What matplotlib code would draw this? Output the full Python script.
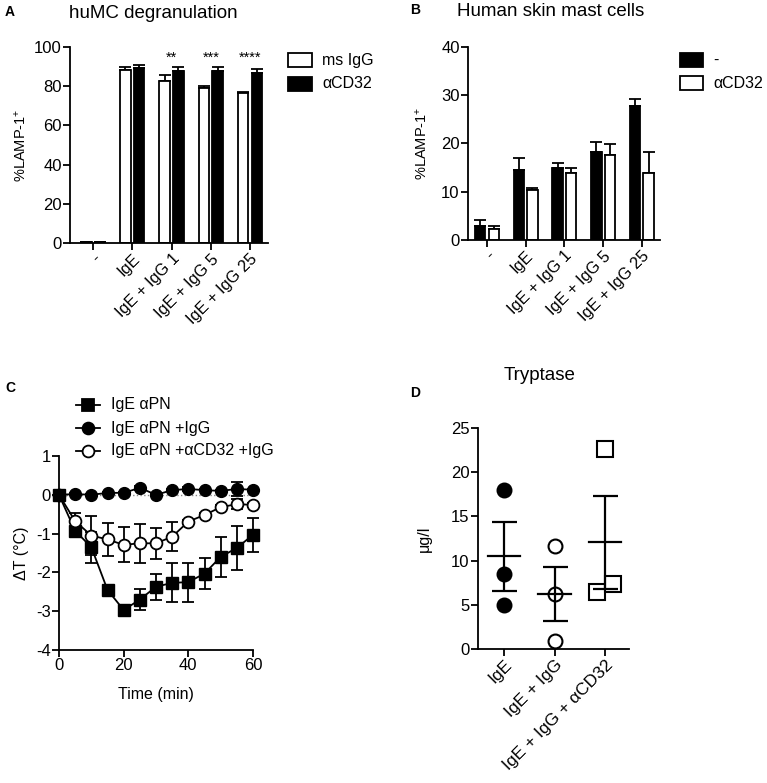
import matplotlib
matplotlib.use('Agg')
import matplotlib.pyplot as plt
import numpy as np
from matplotlib.patches import Rectangle
from matplotlib.lines import Line2D

plt.rcParams['font.family'] = ['Liberation Sans', 'DejaVu Sans']
plt.rcParams['mathtext.fontset'] = 'custom'
plt.rcParams['mathtext.rm'] = 'Liberation Sans'
plt.rcParams['mathtext.it'] = 'Liberation Sans'
plt.rcParams['mathtext.default'] = 'regular'
plt.rcParams['axes.unicode_minus'] = False

# ---------------- data ----------------
cats_ab = ['-', 'IgE', 'IgE + IgG 1', 'IgE + IgG 5', 'IgE + IgG 25']

a_msigg = [0.3, 88.5, 82.5, 79.0, 76.5]
a_msigg_err = [0.0, 1.5, 3.0, 1.3, 0.3]
a_cd32 = [0.3, 89.5, 88.0, 88.0, 86.5]
a_cd32_err = [0.0, 1.5, 1.7, 1.8, 2.3]
a_stars = ['', '', '**', '***', '****']

b_none = [3.0, 14.5, 15.0, 18.3, 27.7]
b_none_err = [1.2, 2.5, 1.0, 2.1, 1.5]
b_cd32 = [2.2, 10.4, 13.9, 17.6, 13.8]
b_cd32_err = [0.8, 0.3, 1.1, 2.3, 4.5]

c_time = [0, 5, 10, 15, 20, 25, 30, 35, 40, 45, 50, 55, 60]
c_ige = [0, -0.93, -1.35, -2.45, -2.97, -2.70, -2.37, -2.27, -2.25, -2.03, -1.60, -1.37, -1.03]
c_ige_err = [0, 0.10, 0.40, 0.05, 0.05, 0.28, 0.33, 0.50, 0.50, 0.40, 0.52, 0.57, 0.44]
c_igg = [0, 0.02, 0.0, 0.05, 0.05, 0.18, 0.0, 0.12, 0.15, 0.12, 0.10, 0.15, 0.13]
c_igg_err = [0, 0.02, 0.02, 0.03, 0.03, 0.05, 0.03, 0.03, 0.04, 0.03, 0.03, 0.17, 0.03]
c_cd32 = [0, -0.68, -1.05, -1.15, -1.29, -1.25, -1.25, -1.08, -0.69, -0.52, -0.32, -0.24, -0.26]
c_cd32_err = [0, 0.20, 0.50, 0.42, 0.45, 0.50, 0.40, 0.37, 0.05, 0.05, 0.05, 0.13, 0.05]

d_cats = ['IgE', 'IgE + IgG', 'IgE + IgG + \u03b1CD32']
d_ige = [18.0, 8.5, 5.0]
d_ige_igg = [11.6, 6.2, 0.9]
d_ige_igg_cd32 = [22.6, 6.4, 7.3]
d_jitter = [[0, 0, 0], [0, 0, 0], [0, -0.16, 0.16]]

# ---------------- figure ----------------
W, H = 767, 783
fig = plt.figure(figsize=(W / 100, H / 100), dpi=100)


def axes_px(x0, x1, ytop, ybot):
    return fig.add_axes([x0 / W, 1 - ybot / H, (x1 - x0) / W, (ybot - ytop) / H])


def fx(x):
    return x / W


def fy(y):
    return 1 - y / H


LW = 1.3
NUMFS = 12
CATFS = 11.8


def style(ax):
    for s in ['top', 'right']:
        ax.spines[s].set_visible(False)
    for s in ['left', 'bottom']:
        ax.spines[s].set_linewidth(LW)
    ax.tick_params(direction='out', length=5, width=LW, labelsize=NUMFS, pad=1)
    ax.patch.set_alpha(0)


# ---------- Panel A ----------
axA = axes_px(70, 268, 47, 243)
style(axA)
x = np.arange(len(cats_ab))
bw, off = 0.27, 0.175
axA.bar(x - off, a_msigg, bw, color='white', edgecolor='black', linewidth=LW, zorder=2)
axA.bar(x + off, a_cd32, bw, color='black', edgecolor='black', linewidth=LW, zorder=2)
axA.errorbar(x - off, a_msigg, yerr=[np.zeros(5), a_msigg_err], fmt='none', ecolor='black',
             elinewidth=LW, capsize=4, capthick=LW, zorder=1)
axA.errorbar(x + off, a_cd32, yerr=[np.zeros(5), a_cd32_err], fmt='none', ecolor='black',
             elinewidth=LW, capsize=4, capthick=LW, zorder=1)
for i, s in enumerate(a_stars):
    if s:
        axA.text(x[i], 94.5, s, ha='center', va='center', fontsize=10.5)
axA.set_xlim(-0.59, 4.46)
axA.set_ylim(0, 100)
axA.set_yticks([0, 20, 40, 60, 80, 100])
axA.set_xticks(x)
axA.set_xticklabels(cats_ab, rotation=45, ha='right', rotation_mode='anchor', fontsize=CATFS)
axA.set_ylabel('%LAMP-1$^{+}$', fontsize=10.5, labelpad=4)
fig.text(fx(153), fy(13), 'huMC degranulation', fontsize=13.5, ha='center', va='center')
fig.text(fx(5), fy(12), 'A', fontsize=10, fontweight='bold', ha='left', va='center')
for j, (lab, fc) in enumerate([('ms IgG', 'white'), ('\u03b1CD32', 'black')]):
    yc = 60 + j * 24
    fig.add_artist(Rectangle((fx(288), fy(yc + 7)), 24 / W, 14 / H, transform=fig.transFigure,
                             facecolor=fc, edgecolor='black', linewidth=LW))
    fig.text(fx(322), fy(yc), lab, fontsize=11.5, ha='left', va='center')

# ---------- Panel B ----------
axB = axes_px(468, 660, 47, 240)
style(axB)
axB.bar(x - off, b_none, bw, color='black', edgecolor='black', linewidth=LW, zorder=2)
axB.bar(x + off, b_cd32, bw, color='white', edgecolor='black', linewidth=LW, zorder=2)
axB.errorbar(x - off, b_none, yerr=[np.zeros(5), b_none_err], fmt='none', ecolor='black',
             elinewidth=LW, capsize=4, capthick=LW, zorder=1)
axB.errorbar(x + off, b_cd32, yerr=[np.zeros(5), b_cd32_err], fmt='none', ecolor='black',
             elinewidth=LW, capsize=4, capthick=LW, zorder=1)
axB.set_xlim(-0.49, 4.47)
axB.set_ylim(0, 40)
axB.set_yticks([0, 10, 20, 30, 40])
axB.set_xticks(x)
axB.set_xticklabels(cats_ab, rotation=45, ha='right', rotation_mode='anchor', fontsize=CATFS)
axB.set_ylabel('%LAMP-1$^{+}$', fontsize=10.5, labelpad=8)
fig.text(fx(551), fy(11), 'Human skin mast cells', fontsize=13.5, ha='center', va='center')
fig.text(fx(410), fy(10), 'B', fontsize=10, fontweight='bold', ha='left', va='center')
for j, (lab, fc) in enumerate([('-', 'black'), ('\u03b1CD32', 'white')]):
    yc = 60 + j * 23
    fig.add_artist(Rectangle((fx(680), fy(yc + 7)), 23 / W, 14 / H, transform=fig.transFigure,
                             facecolor=fc, edgecolor='black', linewidth=LW))
    fig.text(fx(713), fy(yc), lab, fontsize=11.5, ha='left', va='center')

# ---------- Panel C ----------
axC = axes_px(59, 253, 456, 650)
style(axC)
axC.axhline(0, color='#888888', linestyle=':', linewidth=1.0, zorder=0)
kw = dict(color='black', linewidth=LW, elinewidth=LW, capsize=4, capthick=LW, clip_on=False)
axC.errorbar(c_time, c_ige, yerr=c_ige_err, marker='s', markersize=8.5, markerfacecolor='black',
             markeredgecolor='black', zorder=3, **kw)
axC.errorbar(c_time, c_cd32, yerr=c_cd32_err, marker='o', markersize=8.5, markerfacecolor='white',
             markeredgecolor='black', markeredgewidth=LW, zorder=4, **kw)
axC.errorbar(c_time, c_igg, yerr=c_igg_err, marker='o', markersize=8.5, markerfacecolor='black',
             markeredgecolor='black', zorder=5, **kw)
axC.set_xlim(0, 60)
axC.set_ylim(-4, 1)
axC.set_xticks([0, 20, 40, 60])
axC.set_yticks([-4, -3, -2, -1, 0, 1])
axC.set_xlabel('Time (min)', fontsize=11.5, labelpad=10)
axC.set_ylabel('\u0394T (\u00b0C)', fontsize=11.5, labelpad=5)
fig.text(fx(5), fy(388), 'C', fontsize=10, fontweight='bold', ha='left', va='center')
leg_items = [('IgE \u03b1PN', 's', 'black'), ('IgE \u03b1PN +IgG', 'o', 'black'),
             ('IgE \u03b1PN +\u03b1CD32 +IgG', 'o', 'white')]
for j, (lab, mk, mfc) in enumerate(leg_items):
    yc = 405 + j * 23
    fig.add_artist(Line2D([fx(76), fx(88), fx(100)], [fy(yc)] * 3, transform=fig.transFigure,
                          color='black', linewidth=LW, marker=mk, markevery=[1], markersize=8.5,
                          markerfacecolor=mfc, markeredgecolor='black', markeredgewidth=LW))
    fig.text(fx(111), fy(yc), lab, fontsize=11.5, ha='left', va='center')

# ---------- Panel D ----------
axD = axes_px(478, 629, 428, 649)
style(axD)
groups = [d_ige, d_ige_igg, d_ige_igg_cd32]
mk_styles = [('o', 'black'), ('o', 'white'), ('s', 'white')]
for i, (vals, (mk, mfc)) in enumerate(zip(groups, mk_styles)):
    v = np.array(vals)
    xs = i + np.array(d_jitter[i])
    axD.plot(xs, v, linestyle='none', marker=mk, markersize=10 if mk == 'o' else 11,
             markerfacecolor=mfc, markeredgecolor='black', markeredgewidth=1.5, zorder=2,
             clip_on=False)
    m = v.mean()
    sem = v.std(ddof=1) / np.sqrt(len(v))
    axD.plot([i - 0.32, i + 0.32], [m, m], color='black', linewidth=1.6, zorder=3)
    axD.errorbar([i], [m], yerr=[sem], fmt='none', ecolor='black', elinewidth=1.6,
                 capsize=9, capthick=1.6, zorder=3)
axD.set_xlim(-0.51, 2.47)
axD.set_ylim(0, 25)
axD.set_yticks([0, 5, 10, 15, 20, 25])
axD.set_xticks([0, 1, 2])
axD.set_xticklabels(d_cats, rotation=45, ha='right', rotation_mode='anchor', fontsize=12.5)
axD.set_ylabel('\u03bcg/l', fontsize=11.5, labelpad=14)
fig.text(fx(540), fy(375), 'Tryptase', fontsize=13.5, ha='center', va='center')
fig.text(fx(410), fy(393), 'D', fontsize=10, fontweight='bold', ha='left', va='center')

fig.savefig('out.png', dpi=100)
